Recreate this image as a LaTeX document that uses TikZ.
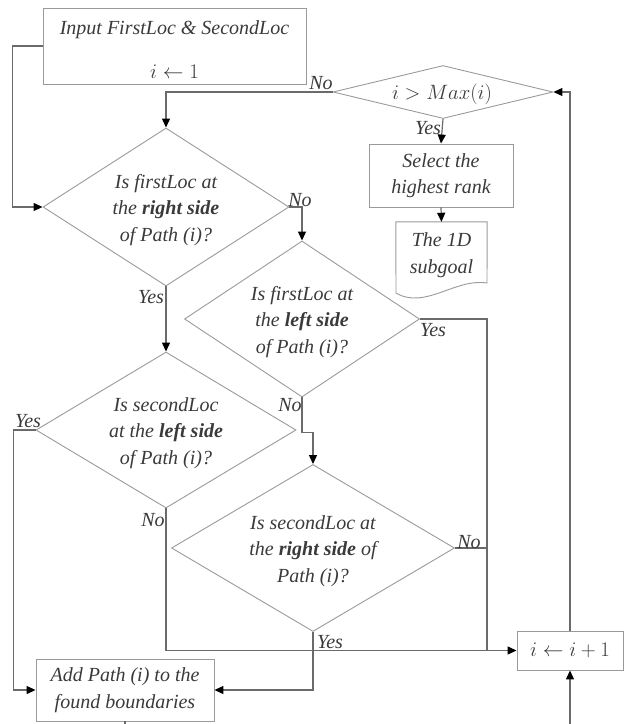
\documentclass[tikz,border=0pt]{standalone}
\usepackage{fontspec}
\setmainfont{Liberation Serif}
\usetikzlibrary{shapes.geometric,arrows.meta}

\definecolor{shapegray}{HTML}{9A9A9A}
\definecolor{linegray}{HTML}{6A6A6A}
\definecolor{txtgray}{HTML}{3A3A3A}

\tikzset{
  every node/.style={font=\fontsize{20}{26.5}\selectfont\itshape, text=txtgray},
  box/.style={draw=shapegray, line width=0.9pt, inner sep=0pt, align=center},
  dec/.style={diamond, draw=shapegray, line width=0.9pt, inner sep=0pt},
  txt/.style={align=center, inner sep=0pt},
  lbl/.style={inner sep=0pt},
  conn/.style={draw=linegray, line width=1.2pt},
  arr/.style={conn, -{Triangle[length=9pt,width=8pt,color=black]}},
}

\begin{document}
\begin{tikzpicture}[x=1pt,y=1pt,yscale=-1,xscale=1]
\useasboundingbox (0,0) rectangle (624,724);

% boxes
\node[box, minimum width=263, minimum height=76] (in) at (174.5,46) {};
\node[txt] (intxt) at (174.5,50) {Input FirstLoc \& SecondLoc\\[17.5pt]$i \leftarrow 1$};
\node[box, minimum width=144, minimum height=63] (sel) at (441,175.5) {Select the\\highest rank};
\node[minimum width=91, minimum height=66, inner sep=0pt, align=center] (doc) at (441.5,255) {The 1D\\subgoal};
\draw[draw=shapegray, line width=0.9pt] (doc.north west) -- (doc.north east) -- (487,283)
  .. controls (455,278) and (425,310) .. (396,293) -- cycle;
\node[box, minimum width=178, minimum height=62] (add) at (125,690) {Add Path (i) to the\\found boundaries};
\node[box, minimum width=106, minimum height=39] (inc) at (570,650.5) {$i \leftarrow i+1$};

% decisions
\node[dec, minimum width=220, minimum height=53] (d5) at (443,92) {};
\node[txt] (d5t) at (442,94) {$i > Max(i)$};
\node[dec, minimum width=246, minimum height=158] (d1) at (166,207) {};
\node[txt] (d1t) at (166,210) {Is firstLoc at\\the \textbf{right side}\\of Path (i)?};
\node[dec, minimum width=235, minimum height=156] (d2) at (302,319) {};
\node[txt] (d2t) at (302,322) {Is firstLoc at\\the \textbf{left side}\\of Path (i)?};
\node[dec, minimum width=260, minimum height=156] (d3) at (166,430) {};
\node[txt] (d3t) at (166,433) {Is secondLoc\\at the \textbf{left side}\\of Path (i)?};
\node[dec, minimum width=283, minimum height=167] (d4) at (313,548) {};
\node[txt] (d4t) at (313,551) {Is secondLoc at\\the \textbf{right side} of\\Path (i)?};

% free ends
\coordinate (jn) at (487,650.5);
\coordinate (outA) at (125,724);
\coordinate (inI) at (570,724);

% connectors
\draw[arr] (in.west) -- ++(-30,0) |- (d1.west);
\draw[arr] (d5.west) -| (d1.north);
\draw[arr] (d5.south) -- (sel.north);
\draw[arr] (sel.south) -- (doc.north);
\draw[arr] (d1.east) -| (d2.north);
\draw[arr] (d1.south) -- (d3.north);
\draw[conn] (d2.east) -| (jn);
\draw[arr] (d2.south) -- ++(0,35) -| (d4.north);
\draw[arr] (d3.west) -- ++(-22,0) |- (add.west);
\draw[arr] (d3.south) |- (inc.west);
\draw[conn] (d4.east) -| (jn);
\draw[arr] (d4.south) |- (add.east);
\draw[arr] (inc.north) |- (d5.east);
\draw[arr] (inI) -- (inc.south);
\draw[conn] (add.south) -- (outA);

% branch labels
\node[lbl] (l5no) at (321,83) {No};
\node[lbl] (l5yes) at (428,128) {Yes};
\node[lbl] (l1no) at (300,200) {No};
\node[lbl] (l1yes) at (151,297) {Yes};
\node[lbl] (l2yes) at (433,330) {Yes};
\node[lbl] (l2no) at (290,405) {No};
\node[lbl] (l3yes) at (28,421) {Yes};
\node[lbl] (l3no) at (153,520) {No};
\node[lbl] (l4no) at (469,542) {No};
\node[lbl] (l4yes) at (330,642) {Yes};

\end{tikzpicture}
\end{document}
